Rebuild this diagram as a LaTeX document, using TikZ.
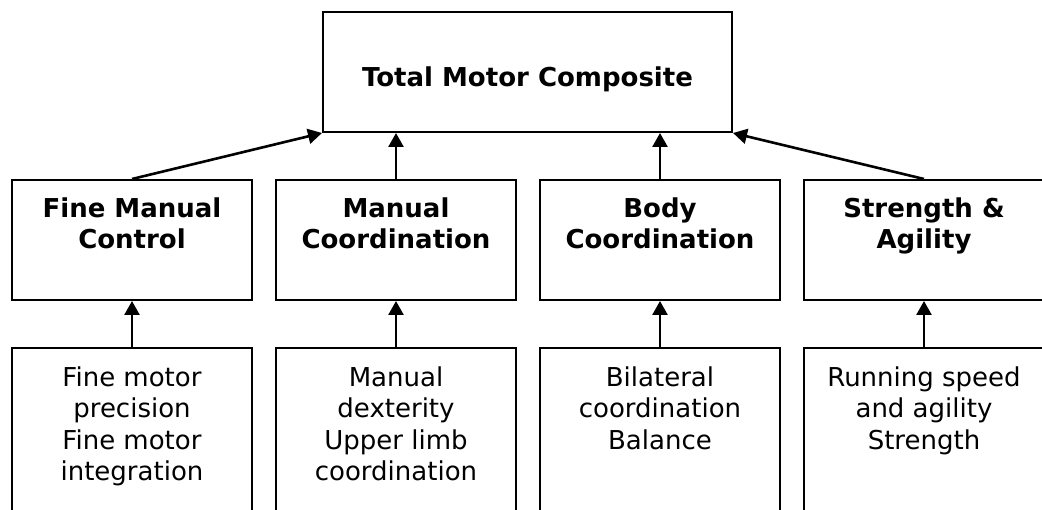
\documentclass[tikz,border=0pt]{standalone}
\usepackage{fontspec}
\setmainfont{DejaVu Sans}
\usetikzlibrary{arrows.meta}
\newcommand{\tstrut}{\rule{0pt}{20pt}}
\begin{document}
\begin{tikzpicture}[x=1pt,y=-1pt,
  box/.style={draw, line width=2pt, inner sep=0pt, minimum width=240pt, minimum height=120pt},
  lowbox/.style={box, minimum height=190pt},
  lab/.style={anchor=north, align=center, inner sep=0pt, font=\fontsize{26}{31.6}\selectfont},
  blab/.style={lab, font=\fontsize{26}{31.6}\selectfont\bfseries},
  arr/.style={line width=2.6pt, -{Triangle[length=14pt,width=15pt]}}]
\useasboundingbox (0,0) rectangle (1042,510);
\begin{scope}
\clip (0,0) rectangle (1042,510);
% top
\node[box, minimum width=409pt] (top) at (527.5,72) {};
\node[blab] (topt) at ([yshift=-55pt]top.north) {\tstrut Total Motor Composite};
% middle row
\node[box] (m1) at (132,240) {};
\node[box] (m2) at (396,240) {};
\node[box] (m3) at (660,240) {};
\node[box] (m4) at (924,240) {};
\node[blab] (m1t) at ([yshift=-18pt]m1.north) {\tstrut Fine Manual\\Control};
\node[blab] (m2t) at ([yshift=-18pt]m2.north) {\tstrut Manual\\Coordination};
\node[blab] (m3t) at ([yshift=-18pt]m3.north) {\tstrut Body\\Coordination};
\node[blab] (m4t) at ([yshift=-18pt]m4.north) {\tstrut Strength \&\\Agility};
% bottom row
\node[lowbox] (d1) at (132,443) {};
\node[lowbox] (d2) at (396,443) {};
\node[lowbox] (d3) at (660,443) {};
\node[lowbox] (d4) at (924,443) {};
\node[lab] (d1t) at ([yshift=-19pt]d1.north) {\tstrut Fine motor\\precision\\Fine motor\\integration};
\node[lab] (d2t) at ([yshift=-19pt]d2.north) {\tstrut Manual\\dexterity\\Upper limb\\coordination};
\node[lab] (d3t) at ([yshift=-19pt]d3.north) {\tstrut Bilateral\\coordination\\Balance};
\node[lab] (d4t) at ([yshift=-19pt]d4.north) {\tstrut Running speed\\and agility\\Strength};
% arrows
\draw[arr] (m1.north) -- (top.south west);
\draw[arr] (m2.north) -- (m2.north |- top.south);
\draw[arr] (m3.north) -- (m3.north |- top.south);
\draw[arr] (m4.north) -- (top.south east);
\draw[arr] (d1.north) -- (m1.south);
\draw[arr] (d2.north) -- (m2.south);
\draw[arr] (d3.north) -- (m3.south);
\draw[arr] (d4.north) -- (m4.south);
\end{scope}
\end{tikzpicture}
\end{document}
